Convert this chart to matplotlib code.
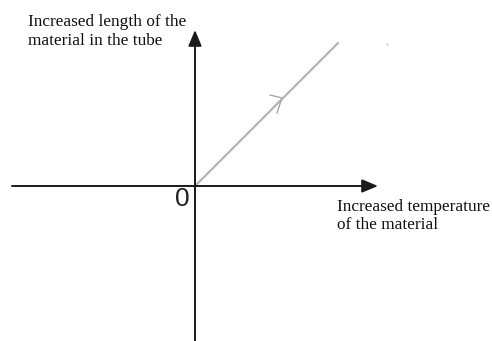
import matplotlib
matplotlib.use("Agg")
import matplotlib.pyplot as plt

# Length grows in proportion to temperature: straight line through the origin
temperature = [0, 143]
length = [0, 143]

x_label = "Increased temperature\nof the material"
y_label = "Increased length of the\nmaterial in the tube"
origin_label = "0"

fig = plt.figure(figsize=(4.92, 3.41), dpi=100)
ax = fig.add_axes([0, 0, 1, 1])
ax.set_xlim(-195, 297)
ax.set_ylim(-155, 186)
ax.axis("off")

axis_color = "#1a1a1a"
arrow_style = "-|>,head_length=0.48,head_width=0.2"

# horizontal axis
ax.annotate("", xy=(183, 0), xytext=(-183, 0),
            arrowprops=dict(arrowstyle=arrow_style, color=axis_color,
                            lw=1.4, mutation_scale=20, shrinkA=0, shrinkB=0))
# vertical axis
ax.annotate("", xy=(0, 156), xytext=(0, -155),
            arrowprops=dict(arrowstyle=arrow_style, color=axis_color,
                            lw=1.4, mutation_scale=20, shrinkA=0, shrinkB=0))

# proportional relationship
ax.plot(temperature, length, color="#b4b4b4", lw=1.6, solid_capstyle="round")

# small hand-drawn arrow mark on the line
ax.plot([75, 87, 82], [91, 88, 73], color="#a8a8a8", lw=1.0)
ax.plot([192], [142], marker="o", ms=1.5, color="#c8c8c8", mec="none")

serif = ["Liberation Serif", "DejaVu Serif"]
ax.text(-167, 172, y_label, family=serif, fontsize=12.4, color="#111111",
        va="top", ha="left", linespacing=1.25)
ax.text(142, -13, x_label, family=serif, fontsize=12.4, color="#111111",
        va="top", ha="left", linespacing=1.18)
ax.text(-5, -1, origin_label, family=["Liberation Sans", "DejaVu Sans"],
        fontsize=19, color="#222222", va="top", ha="right")

fig.savefig("out.png", dpi=100)
